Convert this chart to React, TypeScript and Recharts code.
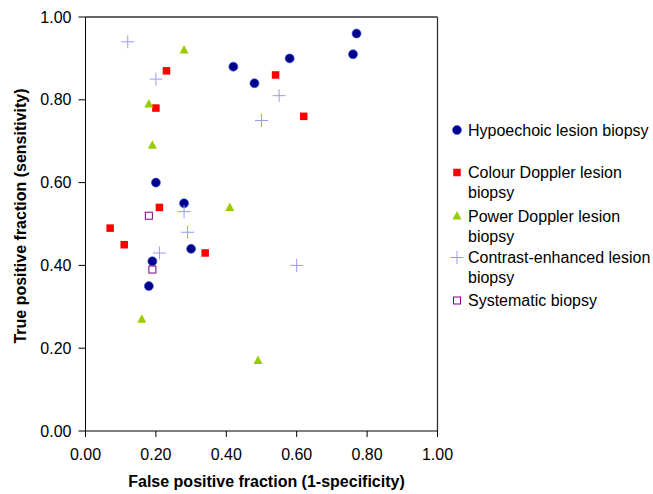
import React from 'react';
import { ScatterChart, Scatter, XAxis, YAxis, ReferenceLine } from 'recharts';

const hypoechoic = [
  { x: 0.77, y: 0.96 }, { x: 0.76, y: 0.91 }, { x: 0.58, y: 0.90 }, { x: 0.42, y: 0.88 },
  { x: 0.48, y: 0.84 }, { x: 0.20, y: 0.60 }, { x: 0.28, y: 0.55 }, { x: 0.30, y: 0.44 },
  { x: 0.19, y: 0.41 }, { x: 0.18, y: 0.35 },
];
const colourDoppler = [
  { x: 0.23, y: 0.87 }, { x: 0.54, y: 0.86 }, { x: 0.20, y: 0.78 }, { x: 0.62, y: 0.76 },
  { x: 0.21, y: 0.54 }, { x: 0.07, y: 0.49 }, { x: 0.11, y: 0.45 }, { x: 0.34, y: 0.43 },
];
const powerDoppler = [
  { x: 0.28, y: 0.92 }, { x: 0.18, y: 0.79 }, { x: 0.19, y: 0.69 }, { x: 0.41, y: 0.54 },
  { x: 0.16, y: 0.27 }, { x: 0.49, y: 0.17 },
];
const contrastEnhanced = [
  { x: 0.12, y: 0.94 }, { x: 0.20, y: 0.85 }, { x: 0.55, y: 0.81 }, { x: 0.50, y: 0.75 },
  { x: 0.28, y: 0.53 }, { x: 0.29, y: 0.48 }, { x: 0.21, y: 0.43 }, { x: 0.60, y: 0.40 },
];
const systematic = [
  { x: 0.18, y: 0.52 }, { x: 0.19, y: 0.39 },
];

const ticks = [0, 0.2, 0.4, 0.6, 0.8, 1.0];
const xTitle = 'False positive fraction (1-specificity)';
const yTitle = 'True positive fraction (sensitivity)';

const FONT = 'Liberation Sans, Arial, sans-serif';

const C_BLUE = '#00008B';
const C_RED = '#FF0000';
const C_GREEN = '#99CC00';
const C_PLUS = '#9999FF';
const C_PURPLE = '#800080';

const Circle = (p: any) => <circle cx={p.cx} cy={p.cy} r={4.5} fill={C_BLUE} stroke="#3355dd" strokeWidth={0.6} />;
const Square = (p: any) => <rect x={p.cx - 3.75} y={p.cy - 3.75} width={7.5} height={7.5} fill={C_RED} />;
const Tri = (p: any) => (
  <polygon points={`${p.cx},${p.cy - 5} ${p.cx - 4.5},${p.cy + 3.5} ${p.cx + 4.5},${p.cy + 3.5}`} fill={C_GREEN} />
);
const Plus = (p: any) => (
  <g stroke={C_PLUS} strokeWidth={1}>
    <line x1={p.cx - 6.5} y1={p.cy} x2={p.cx + 6.5} y2={p.cy} />
    <line x1={p.cx} y1={p.cy - 6.5} x2={p.cx} y2={p.cy + 6.5} />
  </g>
);
const OpenSq = (p: any) => (
  <rect x={p.cx - 3.5} y={p.cy - 3.5} width={7} height={7} fill="#fff" stroke={C_PURPLE} strokeWidth={1} />
);

const legendItems = [
  { lines: ['Hypoechoic lesion biopsy'], y: 130, shape: Circle },
  { lines: ['Colour Doppler lesion', 'biopsy'], y: 172.5, shape: Square },
  { lines: ['Power Doppler lesion', 'biopsy'], y: 216, shape: Tri },
  { lines: ['Contrast-enhanced lesion', 'biopsy'], y: 257.5, shape: Plus },
  { lines: ['Systematic biopsy'], y: 300.5, shape: OpenSq },
];

const LegendBlock = () => (
  <svg width={216} height={220} style={{ position: 'absolute', left: 437, top: 100, overflow: 'visible' }}>
    {legendItems.map((it, i) => {
      const S = it.shape;
      const ly = it.y - 100;
      return (
        <g key={i}>
          <S cx={457 - 437} cy={ly} />
          {it.lines.map((t, j) => (
            <text key={j} x={468 - 437} y={ly + 5.5 + j * 20} fontSize={16} fontFamily={FONT} fill="#000">
              {t}
            </text>
          ))}
        </g>
      );
    })}
  </svg>
);

export default function App() {
  return (
    <div style={{ position: 'absolute', left: 0, top: 0, width: 653, height: 494 }}>
      <ScatterChart width={653} height={494} margin={{ top: 17, right: 215.5, left: 0, bottom: 0 }}>
        <XAxis
          type="number"
          dataKey="x"
          domain={[0, 1]}
          ticks={ticks}
          tickFormatter={(v: number) => v.toFixed(2)}
          height={63}
          stroke="#000"
          tickSize={6}
          tickMargin={12}
          tick={{ fill: '#000', fontSize: 16, fontFamily: FONT }}
          label={{ value: xTitle, position: 'insideBottom', offset: 7, dx: 5, fill: '#000', fontSize: 16, fontWeight: 'bold', fontFamily: FONT }}
        />
        <YAxis
          type="number"
          dataKey="y"
          domain={[0, 1]}
          ticks={ticks}
          tickFormatter={(v: number) => v.toFixed(2)}
          width={85.5}
          stroke="#000"
          tickSize={7}
          tickMargin={7}
          tick={{ fill: '#000', fontSize: 16, fontFamily: FONT }}
          label={{ value: yTitle, angle: -90, position: 'insideLeft', offset: 20, dy: -8, fill: '#000', fontSize: 16, fontWeight: 'bold', fontFamily: FONT, style: { textAnchor: 'middle' } }}
        />
        <ReferenceLine y={1} stroke="#333" strokeWidth={1.3} />
        <ReferenceLine x={1} stroke="#333" strokeWidth={1.3} />
        <Scatter name="Hypoechoic lesion biopsy" data={hypoechoic} shape={Circle} isAnimationActive={false} />
        <Scatter name="Colour Doppler lesion biopsy" data={colourDoppler} shape={Square} isAnimationActive={false} />
        <Scatter name="Power Doppler lesion biopsy" data={powerDoppler} shape={Tri} isAnimationActive={false} />
        <Scatter name="Contrast-enhanced lesion biopsy" data={contrastEnhanced} shape={Plus} isAnimationActive={false} />
        <Scatter name="Systematic biopsy" data={systematic} shape={OpenSq} isAnimationActive={false} />
      </ScatterChart>
      <LegendBlock />
    </div>
  );
}
